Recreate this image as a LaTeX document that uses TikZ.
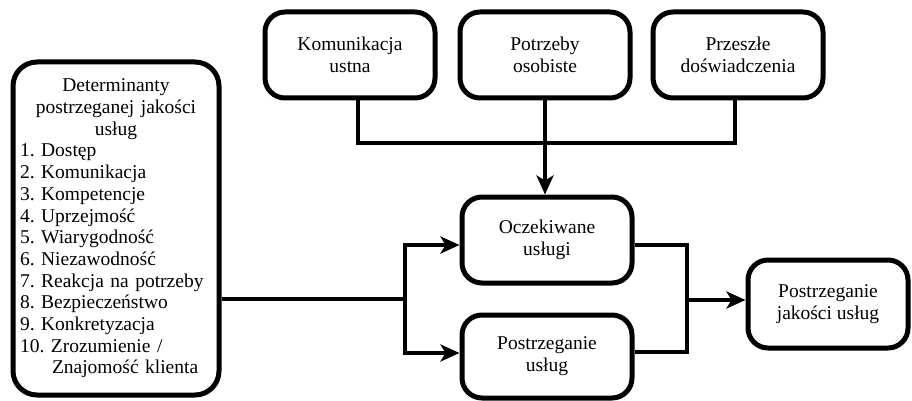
\documentclass[tikz,border=0pt]{standalone}
\usepackage{fontspec}
\setmainfont{Liberation Serif}
\usetikzlibrary{arrows.meta}
\frenchspacing
\tikzset{
  box/.style={draw, line width=5pt, rounded corners=20pt, align=center, inner sep=0pt,
    minimum width=170pt, minimum height=86pt, font=\fontsize{19.5}{22}\selectfont},
  conn/.style={line width=4.5pt},
  tip/.tip={Stealth[length=19pt,width=17pt,inset=5pt]},
  arr/.style={conn, -tip},
}
\begin{document}
\begin{tikzpicture}[x=1pt,y=-1pt]
\useasboundingbox (0,0) rectangle (912,401);
% nodes
\node[box, rounded corners=24pt, minimum width=206pt, minimum height=333pt, align=left,
  text width=192pt, font=\fontsize{19.5}{21.7}\selectfont\frenchspacing] (det) at (116,228.5)
  {{\centering Determinanty\\ postrzeganej jakości\\ usług\par}
   \raggedright
   1. Dostęp\\
   2. Komunikacja\\
   3. Kompetencje\\
   4. Uprzejmość\\
   5. Wiarygodność\\
   6. Niezawodność\\
   7. Reakcja na potrzeby\\
   8. Bezpieczeństwo\\
   9. Konkretyzacja\\
   10. Zrozumienie /\\
   \hspace*{32pt}Znajomość klienta\par\vspace*{9pt}};
\node[box] (kom) at (350,55) {Komunikacja\\ ustna};
\node[box] (pot) at (545,55) {Potrzeby\\ osobiste};
\node[box] (prz) at (738,55) {Przeszłe\\ doświadczenia};
\node[box] (ocz) at (547,240) {Oczekiwane\\ usługi};
\node[box, minimum height=83pt] (pus) at (547,356.5) {Postrzeganie\\ usług};
\node[box, minimum width=160pt, minimum height=88pt] (pjk) at (828,304) {Postrzeganie\\ jakości usług};
% junction coordinates
\coordinate (k1) at (358,143);
\coordinate (p1) at (735,143);
\coordinate (lj) at (405,299);
\coordinate (lu) at (405,245);
\coordinate (ld) at (405,353);
\coordinate (ru) at (687,245);
\coordinate (rd) at (687,352);
\coordinate (rj) at (687,300);
% connectors
\draw[conn] (kom.south -| k1) -- (k1) -- (p1) -- (prz.south -| p1);
\draw[arr] (pot.south) -- (pot.south |- ocz.north);
\draw[conn] (det.east |- lj) -- (lj);
\draw[conn, tip-tip] (ocz.west |- lu) -- (lu) -- (ld) -- (pus.west |- ld);
\draw[conn] (ocz.east |- ru) -- (ru) -- (rd) -- (pus.east |- rd);
\draw[arr] (rj) -- (pjk.west |- rj);
\end{tikzpicture}
\end{document}
